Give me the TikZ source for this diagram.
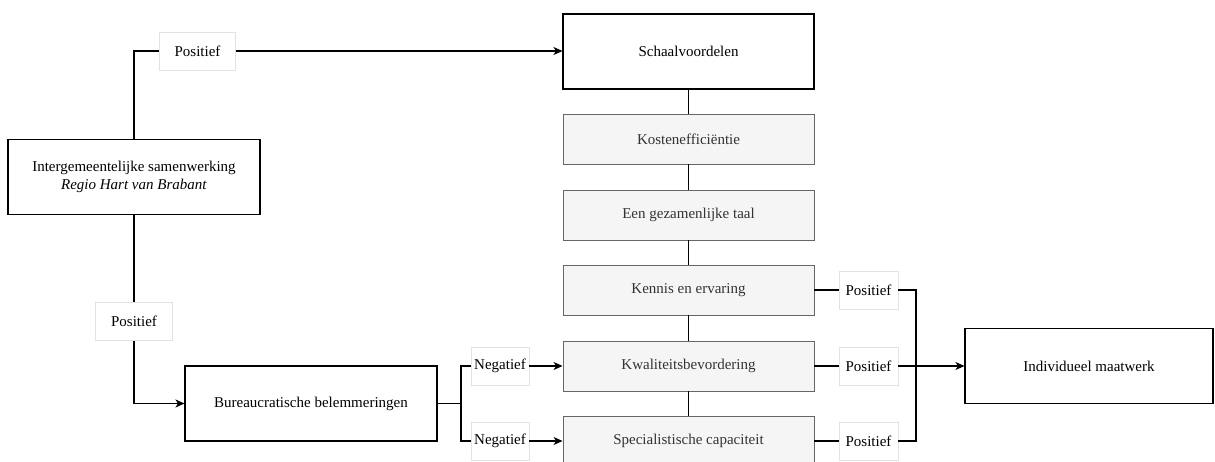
\documentclass[tikz,border=0pt]{standalone}
\usepackage{fontspec}
\setmainfont{Liberation Serif}
\usetikzlibrary{arrows.meta}
\definecolor{boxgray}{HTML}{F5F5F5}
\definecolor{boxline}{HTML}{666666}
\definecolor{boxtext}{HTML}{333333}
\definecolor{lblline}{HTML}{E2E2E2}
\begin{document}
\begin{tikzpicture}[x=1pt,y=-1pt,
  mainbox/.style={draw=black,line width=1.1pt,fill=white,minimum width=252pt,minimum height=75pt,inner sep=0pt,align=center,font=\fontsize{15}{18}\selectfont},
  graybox/.style={draw=boxline,line width=0.9pt,fill=boxgray,text=boxtext,minimum width=251pt,minimum height=50pt,inner sep=0pt,font=\fontsize{15}{18}\selectfont},
  lbl/.style={draw=lblline,line width=0.6pt,fill=white,minimum height=38pt,inner sep=0pt,font=\fontsize{15}{18}\selectfont},
  conn/.style={draw=black,line width=1.1pt},
  arr/.style={conn,-{Stealth[length=9pt,width=8pt,inset=2.5pt]}}
]
\useasboundingbox (0,0) rectangle (1215,462);
% main boxes
\node[mainbox] (inter) at (134,177) {Intergemeentelijke samenwerking\\\textit{Regio Hart van Brabant}};
\node[mainbox,minimum width=251pt] (schaal) at (688.5,51.5) {Schaalvoordelen};
\node[mainbox] (bur) at (311,403.5) {Bureaucratische belemmeringen};
\node[mainbox,minimum width=248pt] (indiv) at (1089,366) {Individueel maatwerk};
% gray boxes
\node[graybox] (kost) at (688.5,139) {Kostenefficiëntie};
\node[graybox] (taal) at (688.5,215) {Een gezamenlijke taal};
\node[graybox] (kennis) at (688.5,290) {Kennis en ervaring};
\node[graybox] (kwal) at (688.5,366) {Kwaliteitsbevordering};
\node[graybox] (spec) at (688.5,441) {Specialistische capaciteit};
% labels
\node[lbl,minimum width=76pt] (p1) at (197.5,51) {Positief};
\node[lbl,minimum width=77pt] (p2) at (134,321.5) {Positief};
\node[lbl,minimum width=58pt] (n1) at (500,366) {Negatief};
\node[lbl,minimum width=58pt] (n2) at (500,441) {Negatief};
\node[lbl,minimum width=59pt] (p3) at (868.5,290) {Positief};
\node[lbl,minimum width=59pt] (p4) at (868.5,366) {Positief};
\node[lbl,minimum width=59pt] (p5) at (868.5,441) {Positief};
% junctions
\coordinate (j1) at (461,403.5);
\coordinate (j2) at (916,366);
% connectors
\draw[conn] (inter.north) |- (p1.west);
\draw[arr] (p1.east) -- (schaal.west |- p1.east);
\draw[conn] (inter.south) -- (p2.north);
\draw[arr] (p2.south) |- (bur.west);
\draw[conn] (bur.east) -- (j1);
\draw[conn] (j1) |- (n1.west);
\draw[conn] (j1) |- (n2.west);
\draw[arr] (n1.east) -- (kwal.west);
\draw[arr] (n2.east) -- (spec.west);
\draw[conn] (schaal.south) -- (kost.north);
\draw[conn] (kost.south) -- (taal.north);
\draw[conn] (taal.south) -- (kennis.north);
\draw[conn] (kennis.south) -- (kwal.north);
\draw[conn] (kwal.south) -- (spec.north);
\draw[conn] (kennis.east) -- (p3.west);
\draw[conn] (kwal.east) -- (p4.west);
\draw[conn] (spec.east) -- (p5.west);
\draw[conn] (p3.east) -| (j2);
\draw[conn] (p5.east) -| (j2);
\draw[arr] (p4.east) -- (indiv.west);
\end{tikzpicture}
\end{document}
